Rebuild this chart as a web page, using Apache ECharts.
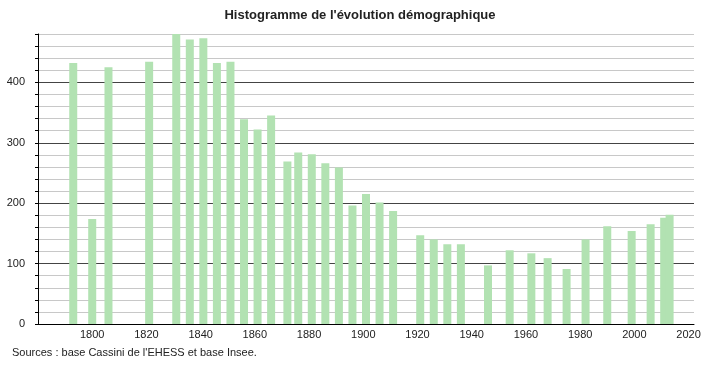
<!DOCTYPE html>
<html>
<head>
<meta charset="utf-8">
<script src="https://cdn.jsdelivr.net/npm/echarts@6/dist/echarts.min.js"></script>
<style>
html,body{margin:0;padding:0;background:#fff;}
#chart{width:720px;height:366px;}
</style>
</head>
<body>
<div id="chart"></div>
<script>
var titleText = "Histogramme de l'évolution démographique";
var sourceText = "Sources : base Cassini de l'EHESS et base Insee.";
var years = [1793,1800,1806,1821,1831,1836,1841,1846,1851,1856,1861,1866,1872,1876,1881,1886,1891,1896,1901,1906,1911,1921,1926,1931,1936,1946,1954,1962,1968,1975,1982,1990,1999,2006,2011,2013];
var population = [432,174,425,434,480,471,473,432,434,339,322,345,269,284,281,266,259,196,215,201,187,147,140,132,132,97,122,117,109,91,140,162,154,165,176,181];
var xTickLabels = [1800,1820,1840,1860,1880,1900,1920,1940,1960,1980,2000,2020];
var yTickLabels = [0,100,200,300,400];

var chart = echarts.init(document.getElementById('chart'), null, {renderer:'canvas'});
var data = years.map(function(y,i){ return [y, population[i]]; });
var font = 'Liberation Sans, Arial, Helvetica, sans-serif';
chart.setOption({
  animation:false,
  title:{
    text:titleText, left:'center', top:4,
    textStyle:{fontFamily:font, fontSize:13, fontWeight:'bold', color:'#222'}
  },
  graphic:[{
    type:'text', left:12, top:347,
    style:{text:sourceText, font:'11px ' + font, fill:'#222'}
  }],
  grid:{left:38, right:26, top:34, bottom:42, containLabel:false},
  xAxis:{
    type:'value', min:1780, max:2022, interval:20,
    axisLine:{show:true, lineStyle:{color:'#000', width:1}},
    axisTick:{show:false},
    splitLine:{show:false},
    axisLabel:{
      color:'#222', fontFamily:font, fontSize:11, margin:5,
      formatter:function(v){ return xTickLabels.indexOf(v) >= 0 ? String(v) : ''; }
    }
  },
  yAxis:{
    type:'value', min:0, max:480, interval:20,
    axisLine:{show:true, lineStyle:{color:'#000', width:1}},
    axisTick:{show:true, length:3, inside:false, lineStyle:{color:'#000'}},
    splitLine:{show:true, lineStyle:{color:['#444','#c8c8c8','#c8c8c8','#c8c8c8','#c8c8c8'], width:1}},
    axisLabel:{
      color:'#222', fontFamily:font, fontSize:11, margin:13,
      formatter:function(v){ return yTickLabels.indexOf(v) >= 0 ? String(v) : ''; }
    }
  },
  series:[{
    type:'bar', data:data, barWidth:8,
    itemStyle:{color:'#b2e2b2'},
    clip:true
  }]
});
</script>
</body>
</html>
